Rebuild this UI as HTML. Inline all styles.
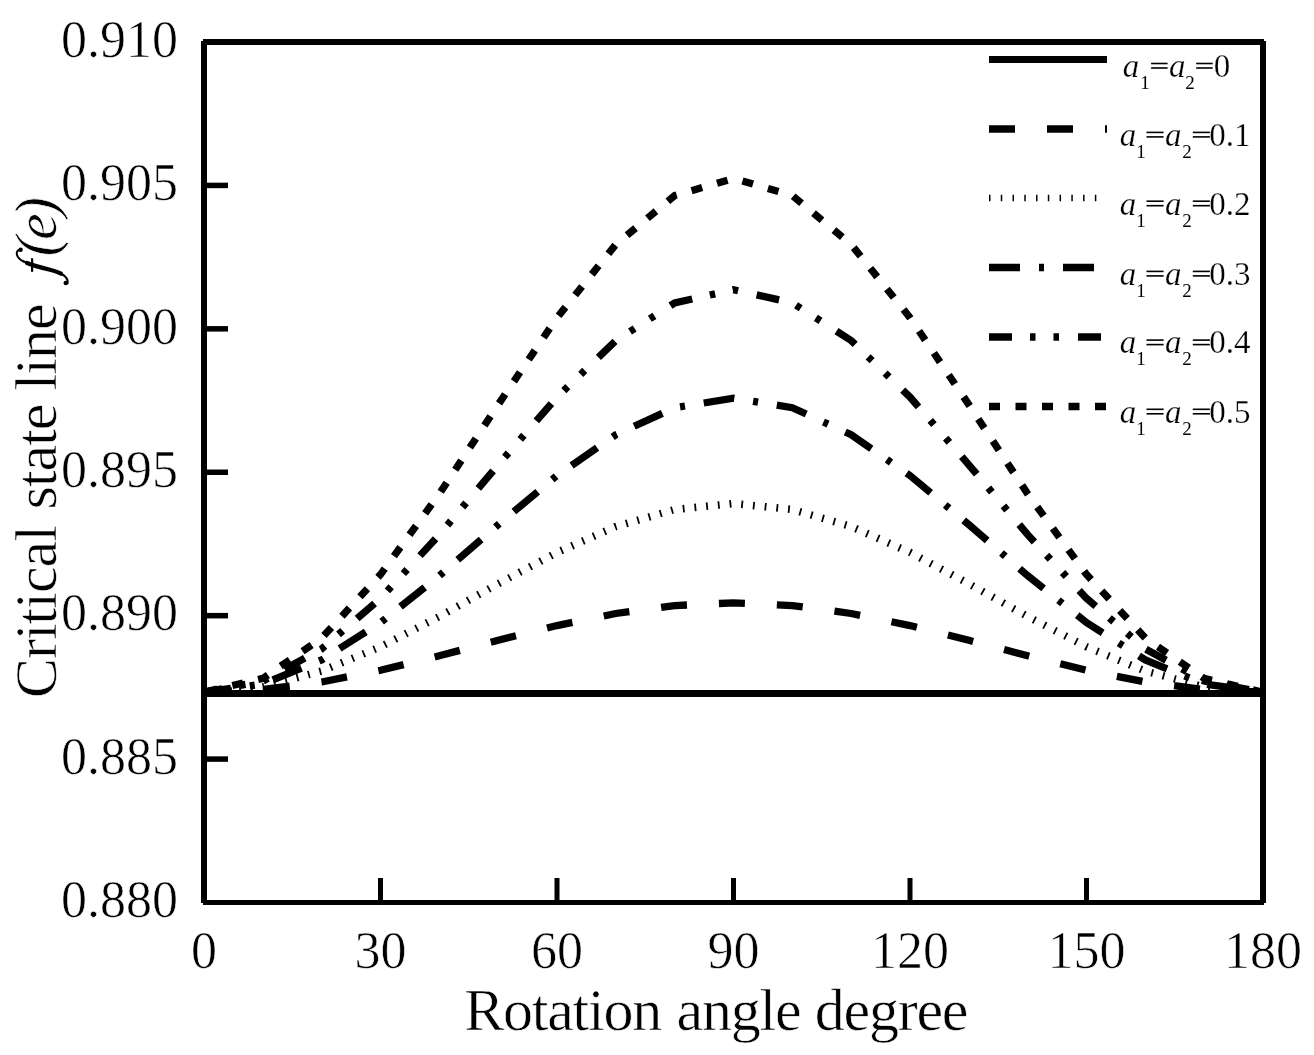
<!DOCTYPE html>
<html><head><meta charset="utf-8"><style>
html,body{margin:0;padding:0;background:#fff;}
body{width:1314px;height:1055px;overflow:hidden;}
svg{display:block;filter:grayscale(1);}
text{font-family:"Liberation Serif",serif;fill:#000;stroke:#fff;stroke-width:0.6px;}
</style></head><body>
<svg width="1314" height="1055" viewBox="0 0 1314 1055">
<rect x="0" y="0" width="1314" height="1055" fill="#fff"/>
<path d="M204.00,692.20 L262.83,689.57 L321.67,681.97 L380.50,670.27 L439.33,655.80 L498.17,640.28 L557.00,625.57 L615.83,613.49 L674.67,605.56 L733.50,602.80 L792.33,605.56 L851.17,613.49 L910.00,625.57 L968.83,640.28 L1027.67,655.80 L1086.50,670.27 L1145.33,681.97 L1204.17,689.57 L1263.00,692.20" fill="none" stroke="#000" stroke-width="7.3" stroke-dasharray="26 32" stroke-dashoffset="-2" stroke-linecap="butt"/>
<path d="M204.00,692.20 L262.83,686.79 L321.67,671.10 L380.50,646.79 L439.33,616.52 L498.17,583.75 L557.00,552.44 L615.83,526.55 L674.67,509.47 L733.50,503.50 L792.33,509.47 L851.17,526.55 L910.00,552.44 L968.83,583.75 L1027.67,616.52 L1086.50,646.79 L1145.33,671.10 L1204.17,686.79 L1263.00,692.20" fill="none" stroke="#000" stroke-width="7.5" stroke-dasharray="1.8 9.96" stroke-dashoffset="0" stroke-linecap="butt"/>
<path d="M204.00,692.20 L262.83,683.94 L321.67,659.93 L380.50,622.56 L439.33,575.72 L498.17,524.66 L557.00,475.56 L615.83,434.72 L674.67,407.67 L733.50,398.20 L792.33,407.67 L851.17,434.72 L910.00,475.56 L968.83,524.66 L1027.67,575.72 L1086.50,622.56 L1145.33,659.93 L1204.17,683.94 L1263.00,692.20" fill="none" stroke="#000" stroke-width="7.3" stroke-dasharray="31 19 5 19" stroke-dashoffset="3.8" stroke-linecap="butt"/>
<path d="M204.00,692.20 L262.83,681.12 L321.67,648.86 L380.50,598.37 L439.33,534.68 L498.17,464.79 L557.00,397.12 L615.83,340.53 L674.67,302.90 L733.50,289.70 L792.33,302.90 L851.17,340.53 L910.00,397.12 L968.83,464.79 L1027.67,534.68 L1086.50,598.37 L1145.33,648.86 L1204.17,681.12 L1263.00,692.20" fill="none" stroke="#000" stroke-width="7.3" stroke-dasharray="23 18 5.5 18 5.5 19" stroke-dashoffset="4.3" stroke-linecap="butt"/>
<path d="M204.00,692.20 L262.83,678.39 L321.67,638.04 L380.50,574.54 L439.33,493.86 L498.17,404.64 L557.00,317.64 L615.83,244.45 L674.67,195.58 L733.50,178.40 L792.33,195.58 L851.17,244.45 L910.00,317.64 L968.83,404.64 L1027.67,493.86 L1086.50,574.54 L1145.33,638.04 L1204.17,678.39 L1263.00,692.20" fill="none" stroke="#000" stroke-width="7.3" stroke-dasharray="11 15.5" stroke-dashoffset="-2.6" stroke-linecap="butt"/>
<rect x="207" y="690" width="1053" height="7" fill="#000"/>
<rect x="203" y="39" width="1061" height="6" fill="#000"/>
<rect x="203" y="900" width="1061" height="5" fill="#000"/>
<rect x="201" y="41" width="6" height="862" fill="#000"/>
<rect x="1260" y="41" width="6" height="862" fill="#000"/>
<rect x="207" y="182.67" width="21" height="5.5" fill="#000"/>
<rect x="207" y="326.08" width="21" height="5.5" fill="#000"/>
<rect x="207" y="469.50" width="21" height="5.5" fill="#000"/>
<rect x="207" y="612.92" width="21" height="5.5" fill="#000"/>
<rect x="207" y="756.33" width="21" height="5.5" fill="#000"/>
<rect x="378.00" y="878" width="5" height="22" fill="#000"/>
<rect x="554.50" y="878" width="5" height="22" fill="#000"/>
<rect x="731.00" y="878" width="5" height="22" fill="#000"/>
<rect x="907.50" y="878" width="5" height="22" fill="#000"/>
<rect x="1084.00" y="878" width="5" height="22" fill="#000"/>
<text x="178" y="56.70" font-size="52" text-anchor="end">0.910</text>
<text x="178" y="200.12" font-size="52" text-anchor="end">0.905</text>
<text x="178" y="343.53" font-size="52" text-anchor="end">0.900</text>
<text x="178" y="486.95" font-size="52" text-anchor="end">0.895</text>
<text x="178" y="630.37" font-size="52" text-anchor="end">0.890</text>
<text x="178" y="773.78" font-size="52" text-anchor="end">0.885</text>
<text x="178" y="917.20" font-size="52" text-anchor="end">0.880</text>
<text x="204.00" y="967.5" font-size="52" text-anchor="middle">0</text>
<text x="380.50" y="967.5" font-size="52" text-anchor="middle">30</text>
<text x="557.00" y="967.5" font-size="52" text-anchor="middle">60</text>
<text x="733.50" y="967.5" font-size="52" text-anchor="middle">90</text>
<text x="910.00" y="967.5" font-size="52" text-anchor="middle">120</text>
<text x="1086.50" y="967.5" font-size="52" text-anchor="middle">150</text>
<text x="1263.00" y="967.5" font-size="52" text-anchor="middle">180</text>
<text x="464.27" y="1030" font-size="60" letter-spacing="-1.25">Rotation</text>
<text x="676.59" y="1030" font-size="60" letter-spacing="-1.25">angle</text>
<text x="814.83" y="1030" font-size="60" letter-spacing="-1.25">degree</text>
<text transform="translate(56.3,698.06) rotate(-90)" font-size="60" letter-spacing="-1">Critical</text>
<text transform="translate(56.3,509.46) rotate(-90)" font-size="60" letter-spacing="-1">state</text>
<text transform="translate(56.3,390.40) rotate(-90)" font-size="60" letter-spacing="-1">line</text>
<g fill="none" stroke="#000" stroke-linecap="round"><path d="M20.5,249.6 C17.5,250 16.2,252 17,255 C18,258.5 20.5,260 24,261.6" stroke-width="2"/><path d="M23,261.2 C30,264.3 38,266.6 46,268.7 C54,270.8 60,272.5 64,275.5 C67,278 68,280.5 67.6,283.2" stroke-width="2.2"/><path d="M27,263 C34,265.8 42,267.8 50,269.8 C55,271.2 58.5,272.2 61,273.6" stroke-width="4.2"/></g><circle cx="20.6" cy="249.8" r="2.2" fill="#000"/><circle cx="65.8" cy="283" r="2.3" fill="#000"/><rect x="31" y="258.2" width="2.2" height="13.6" fill="#000"/>
<text transform="translate(56.3,256.60) rotate(-90)" font-size="60" font-style="italic">(</text>
<text transform="translate(56.3,240.10) rotate(-90)" font-size="60" font-style="italic">e</text>
<text transform="translate(56.3,217.10) rotate(-90)" font-size="60" font-style="italic">)</text>
<rect x="989" y="56.00" width="118" height="7" fill="#000"/>
<text y="76.80" font-size="33" style="stroke-width:0.25px"><tspan x="1122.72" font-style="italic">a</tspan><tspan x="1169.02" font-style="italic">a</tspan><tspan x="1213.70">0</tspan></text>
<text y="88.80" font-size="19" style="stroke:none"><tspan x="1140.33">1</tspan><tspan x="1185.17">2</tspan></text>
<rect x="1151.10" y="62.70" width="16.5" height="1.6" fill="#000"/><rect x="1151.10" y="67.20" width="16.5" height="1.6" fill="#000"/>
<rect x="1196.20" y="62.70" width="16.5" height="1.6" fill="#000"/><rect x="1196.20" y="67.20" width="16.5" height="1.6" fill="#000"/>
<path d="M989,129.00 L1107,129.00" fill="none" stroke="#000" stroke-width="7.3" stroke-dasharray="26 32"/>
<text y="145.70" font-size="33" style="stroke-width:0.25px"><tspan x="1119.82" font-style="italic">a</tspan><tspan x="1165.02" font-style="italic">a</tspan><tspan x="1209.30">0.1</tspan></text>
<text y="157.70" font-size="19" style="stroke:none"><tspan x="1136.33">1</tspan><tspan x="1182.17">2</tspan></text>
<rect x="1146.50" y="131.60" width="17.1" height="1.6" fill="#000"/><rect x="1146.50" y="136.10" width="17.1" height="1.6" fill="#000"/>
<rect x="1192.80" y="131.60" width="17.1" height="1.6" fill="#000"/><rect x="1192.80" y="136.10" width="17.1" height="1.6" fill="#000"/>
<path d="M989,198.00 L1100,198.00" fill="none" stroke="#000" stroke-width="6.5" stroke-dasharray="1.5 10.26"/>
<text y="214.50" font-size="33" style="stroke-width:0.25px"><tspan x="1119.82" font-style="italic">a</tspan><tspan x="1165.02" font-style="italic">a</tspan><tspan x="1209.30">0.2</tspan></text>
<text y="226.50" font-size="19" style="stroke:none"><tspan x="1136.33">1</tspan><tspan x="1182.17">2</tspan></text>
<rect x="1146.50" y="200.40" width="17.1" height="1.6" fill="#000"/><rect x="1146.50" y="204.90" width="17.1" height="1.6" fill="#000"/>
<rect x="1192.80" y="200.40" width="17.1" height="1.6" fill="#000"/><rect x="1192.80" y="204.90" width="17.1" height="1.6" fill="#000"/>
<path d="M989,267.50 L1107,267.50" fill="none" stroke="#000" stroke-width="7.3" stroke-dasharray="31 19 5 19"/>
<text y="284.70" font-size="33" style="stroke-width:0.25px"><tspan x="1119.82" font-style="italic">a</tspan><tspan x="1165.02" font-style="italic">a</tspan><tspan x="1209.30">0.3</tspan></text>
<text y="296.70" font-size="19" style="stroke:none"><tspan x="1136.33">1</tspan><tspan x="1182.17">2</tspan></text>
<rect x="1146.50" y="270.60" width="17.1" height="1.6" fill="#000"/><rect x="1146.50" y="275.10" width="17.1" height="1.6" fill="#000"/>
<rect x="1192.80" y="270.60" width="17.1" height="1.6" fill="#000"/><rect x="1192.80" y="275.10" width="17.1" height="1.6" fill="#000"/>
<path d="M989,337.00 L1107,337.00" fill="none" stroke="#000" stroke-width="7.3" stroke-dasharray="23 18 5.5 18 5.5 19"/>
<text y="353.40" font-size="33" style="stroke-width:0.25px"><tspan x="1119.82" font-style="italic">a</tspan><tspan x="1165.02" font-style="italic">a</tspan><tspan x="1209.30">0.4</tspan></text>
<text y="365.40" font-size="19" style="stroke:none"><tspan x="1136.33">1</tspan><tspan x="1182.17">2</tspan></text>
<rect x="1146.50" y="339.30" width="17.1" height="1.6" fill="#000"/><rect x="1146.50" y="343.80" width="17.1" height="1.6" fill="#000"/>
<rect x="1192.80" y="339.30" width="17.1" height="1.6" fill="#000"/><rect x="1192.80" y="343.80" width="17.1" height="1.6" fill="#000"/>
<path d="M989,406.50 L1107,406.50" fill="none" stroke="#000" stroke-width="7.3" stroke-dasharray="11 15.5"/>
<text y="422.60" font-size="33" style="stroke-width:0.25px"><tspan x="1119.82" font-style="italic">a</tspan><tspan x="1165.02" font-style="italic">a</tspan><tspan x="1209.30">0.5</tspan></text>
<text y="434.60" font-size="19" style="stroke:none"><tspan x="1136.33">1</tspan><tspan x="1182.17">2</tspan></text>
<rect x="1146.50" y="408.50" width="17.1" height="1.6" fill="#000"/><rect x="1146.50" y="413.00" width="17.1" height="1.6" fill="#000"/>
<rect x="1192.80" y="408.50" width="17.1" height="1.6" fill="#000"/><rect x="1192.80" y="413.00" width="17.1" height="1.6" fill="#000"/>
</svg>
</body></html>
